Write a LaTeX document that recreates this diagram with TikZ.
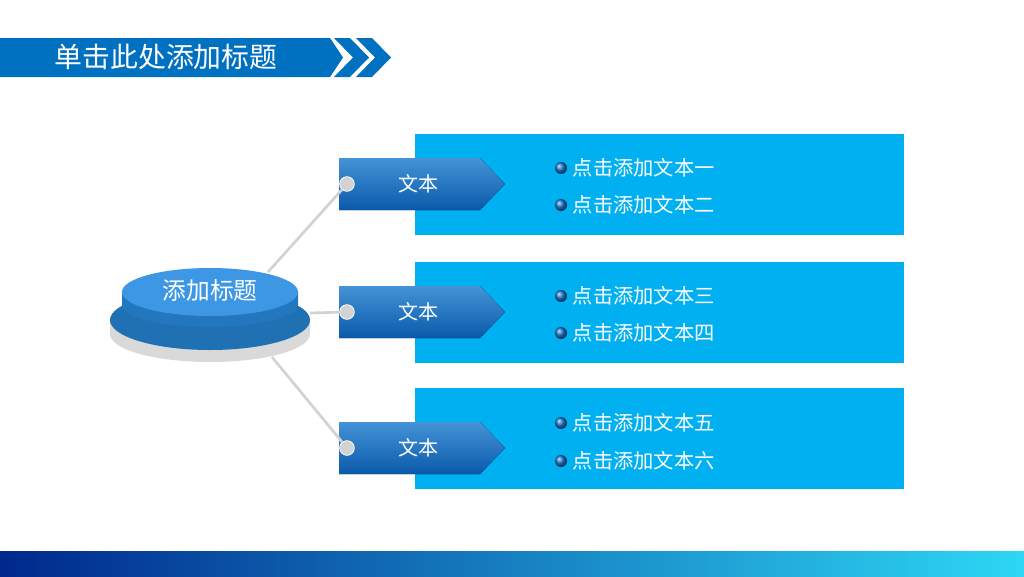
\documentclass[tikz,border=0pt]{standalone}
\usepackage{fontspec}
\setmainfont{Noto Sans CJK SC}
\usetikzlibrary{positioning,shapes.geometric}
\definecolor{barblue}{RGB}{0,112,192}
\definecolor{panelblue}{RGB}{0,176,240}
\definecolor{tagblue}{RGB}{22,120,205}
\definecolor{tagdark}{RGB}{10,90,170}
\definecolor{diskblue}{RGB}{40,140,225}
\definecolor{linegray}{RGB}{210,210,210}
\definecolor{navy}{RGB}{0,40,140}
\definecolor{stripecyan}{RGB}{45,215,245}
\tikzset{
  panel/.style={fill=panelblue,draw=none},
  tagbox/.style={top color=tagblue!80!white,bottom color=tagdark,draw=none},
  tagtext/.style={text=white,font=\fontsize{15}{17}\selectfont},
  itemtext/.style={text=white,font=\fontsize{15.2}{17}\selectfont,anchor=west,inner sep=0pt},
  bulletdot/.style={circle,inner sep=0pt,minimum size=9pt,ball color=tagblue},
  linkdot/.style={circle,fill=linegray,draw=white,line width=0.6pt,inner sep=0pt,minimum size=11pt},
  link/.style={linegray,line width=2pt}
}
\begin{document}
\begin{tikzpicture}[x=0.75pt,y=0.75pt,yscale=-1,xscale=1]
\useasboundingbox (0,0) rectangle (1024,576);
\fill[white] (0,0) rectangle (1024,576);

% title bar
\fill[barblue] (0,38) -- (330,38) -- (343,57.5) -- (330,77) -- (0,77) -- cycle;
\fill[barblue] (334,38) -- (350,38) -- (369,57.5) -- (350,77) -- (334,77) -- (353,57.5) -- cycle;
\fill[barblue] (356,38) -- (372,38) -- (391,57.5) -- (372,77) -- (356,77) -- (375,57.5) -- cycle;
\node[text=white,font=\fontsize{20.9}{24}\selectfont] (title) at (166,57) {单击此处添加标题};

% bottom stripe
\shade[left color=navy,right color=stripecyan] (0,551) rectangle (1024,576);

% panels
\foreach \y/\n in {134/1,262/2,388/3}
  \fill[panel] (415,\y) rectangle (904,\y+101);

% centre disk
\fill[gray!30] (110,318) -- (110,334) arc[start angle=180,end angle=0,x radius=100,y radius=28] -- (310,318) -- cycle;
\fill[diskblue!80!black] (210,320) ellipse[x radius=100,y radius=30];
\fill[diskblue!85!black] (122,292) -- (122,305) arc[start angle=180,end angle=0,x radius=88,y radius=22] -- (298,292) -- cycle;
\fill[diskblue!90!white] (210,292) ellipse[x radius=88,y radius=24];
\node[text=white,font=\fontsize{17.8}{20}\selectfont] (head) at (210,290) {添加标题};
\coordinate (d1) at (268,272);
\coordinate (d2) at (310,313);
\coordinate (d3) at (272,357);

% tags
\foreach \y/\n in {184/1,312/2,448/3}{
  \fill[tagbox] (339,\y-26) -- (480,\y-26) -- (505,\y) -- (480,\y+26) -- (339,\y+26) -- cycle;
  \node[tagtext] (tag\n) at (418,\y) {文本};
  \node[linkdot] (dot\n) at (347,\y) {};
}
\draw[link] (d1) -- (dot1);
\draw[link] (d2) -- (dot2);
\draw[link] (d3) -- (dot3);

% items
\foreach \y/\t [count=\i] in {168/点击添加文本一,205/点击添加文本二,296/点击添加文本三,333/点击添加文本四,423/点击添加文本五,461/点击添加文本六}{
  \node[bulletdot] (b\i) at (561,\y) {};
  \node[itemtext,right=4pt of b\i] (item\i) {\t};
}
\end{tikzpicture}
\end{document}
